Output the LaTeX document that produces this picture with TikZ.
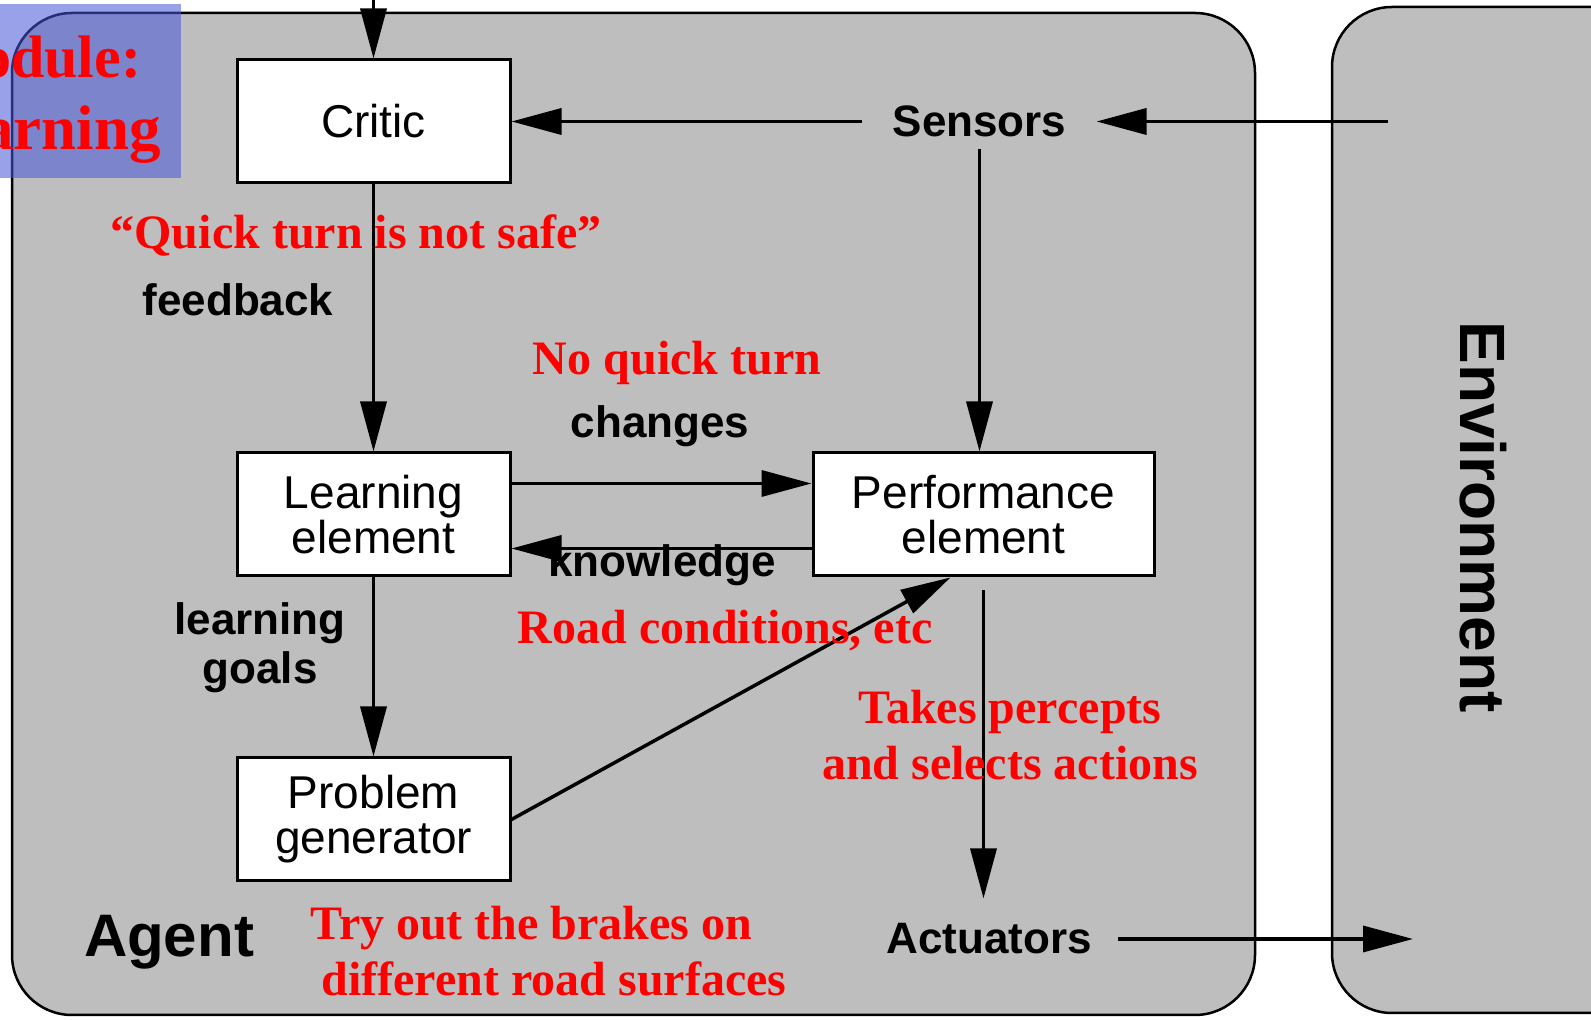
\documentclass[tikz,border=0pt]{standalone}
\usepackage{fontspec}
\setmainfont{Liberation Sans}
\newfontfamily\serifbold{Liberation Serif}
\usetikzlibrary{positioning,arrows.meta}
\definecolor{agentgray}{RGB}{190,190,190}
\definecolor{slideblue}{RGB}{70,85,215}

\begin{document}
\begin{tikzpicture}[x=1pt, y=1pt, node distance=20pt,
    arrow/.style={-{Triangle[length=50pt,width=26pt]}, line width=3.5pt},
    box/.style={rectangle, draw, line width=3pt, fill=white, minimum width=273pt, minimum height=123pt, align=center, font=\fontsize{46}{45}\selectfont},
    lbl/.style={font=\fontsize{44}{49}\selectfont\bfseries, align=center},
    note/.style={text=red, font=\fontsize{48}{56}\selectfont\serifbold\bfseries, align=center},
    frame/.style={draw, line width=2.5pt, fill=agentgray, rounded corners=60pt}]

    \clip (0,0) rectangle (1591,1020);

    % agent and environment
    \draw[frame] (12,5) rectangle (1255,1007);
    \draw[frame] (1332,7) rectangle (1690,1013);

    \node [box] (critic) at (373.5,898.5) {Critic};
    \node [box, below = 267pt of critic] (learn) {Learning\\element};
    \node [box, minimum width=341pt, right = 300pt of learn] (perf) {Performance\\element};
    \node [box, below = 179pt of learn] (prob) {Problem\\generator};

    \node [lbl, inner xsep=30pt, inner ysep=12pt] (sensors) at (979.5,898.5) {Sensors};
    \node [lbl, inner xsep=26pt, inner ysep=25pt] (actuators) at (989,81) {Actuators};
    \path (critic.north) ++(0,130) coordinate (topin);
    \coordinate (envout) at (1388,898.5);
    \coordinate (envin) at (1413,81);

    \draw[arrow] (topin) -- (critic);
    \draw[arrow] (envout) -- (sensors);
    \draw[arrow] (sensors) -- (critic);
    \draw[arrow] (sensors.south) -- (sensors.south |- perf.north);
    \draw[arrow] (critic) -- (learn);
    \draw[arrow] ([yshift=31pt]learn.east) -- ([yshift=31pt]perf.west);
    \draw[arrow] ([yshift=-34pt]perf.west) -- ([yshift=-34pt]learn.east);
    \draw[arrow] (learn) -- (prob);
    \draw[arrow] (prob.east) -- ([xshift=-33pt]perf.south);
    \draw[arrow, shorten <=13pt] (perf.south) -- (perf.south |- actuators.north);
    \draw[arrow] (actuators) -- (envin);

    \node [lbl] (feedback) at (238,720) {feedback};
    \node [lbl] (changes) at (660,594) {changes};
    \node [lbl] (knowledge) at (662,455) {knowledge};
    \node [lbl] (goals) at (260,372) {learning\\goals};
    \node [lbl, font=\fontsize{60}{60}\selectfont\bfseries] (agent) at (169,78) {Agent};
    \node [lbl, font=\fontsize{64}{64}\selectfont\bfseries, rotate=-90] (env) at (1483,503) {Environment};

    % red notes
    \node [note] (quote) at (356,784) {“Quick turn is not safe”};
    \node [note] (noquick) at (677,657) {No quick turn};
    \node [note] (road) at (725,389) {Road conditions, etc};
    \node [note] (percepts) at (1010,285) {Takes percepts\\and selects actions};
    \node [note, align=left, anchor=west] (brakes) at (307,69) {Try out the brakes on\\\hspace*{11pt}different road surfaces};

    % slide title
    \fill[slideblue, opacity=0.55] (0,842) rectangle (181,1016);
    \node [note, font=\fontsize{60}{72}\selectfont\serifbold\bfseries, anchor=base west, inner sep=0pt] (module) at (-19,942) {odule:};
    \node [note, font=\fontsize{63}{72}\selectfont\serifbold\bfseries, anchor=base west, inner sep=0pt] (learning) at (-18,870) {arning};

\end{tikzpicture}
\end{document}
